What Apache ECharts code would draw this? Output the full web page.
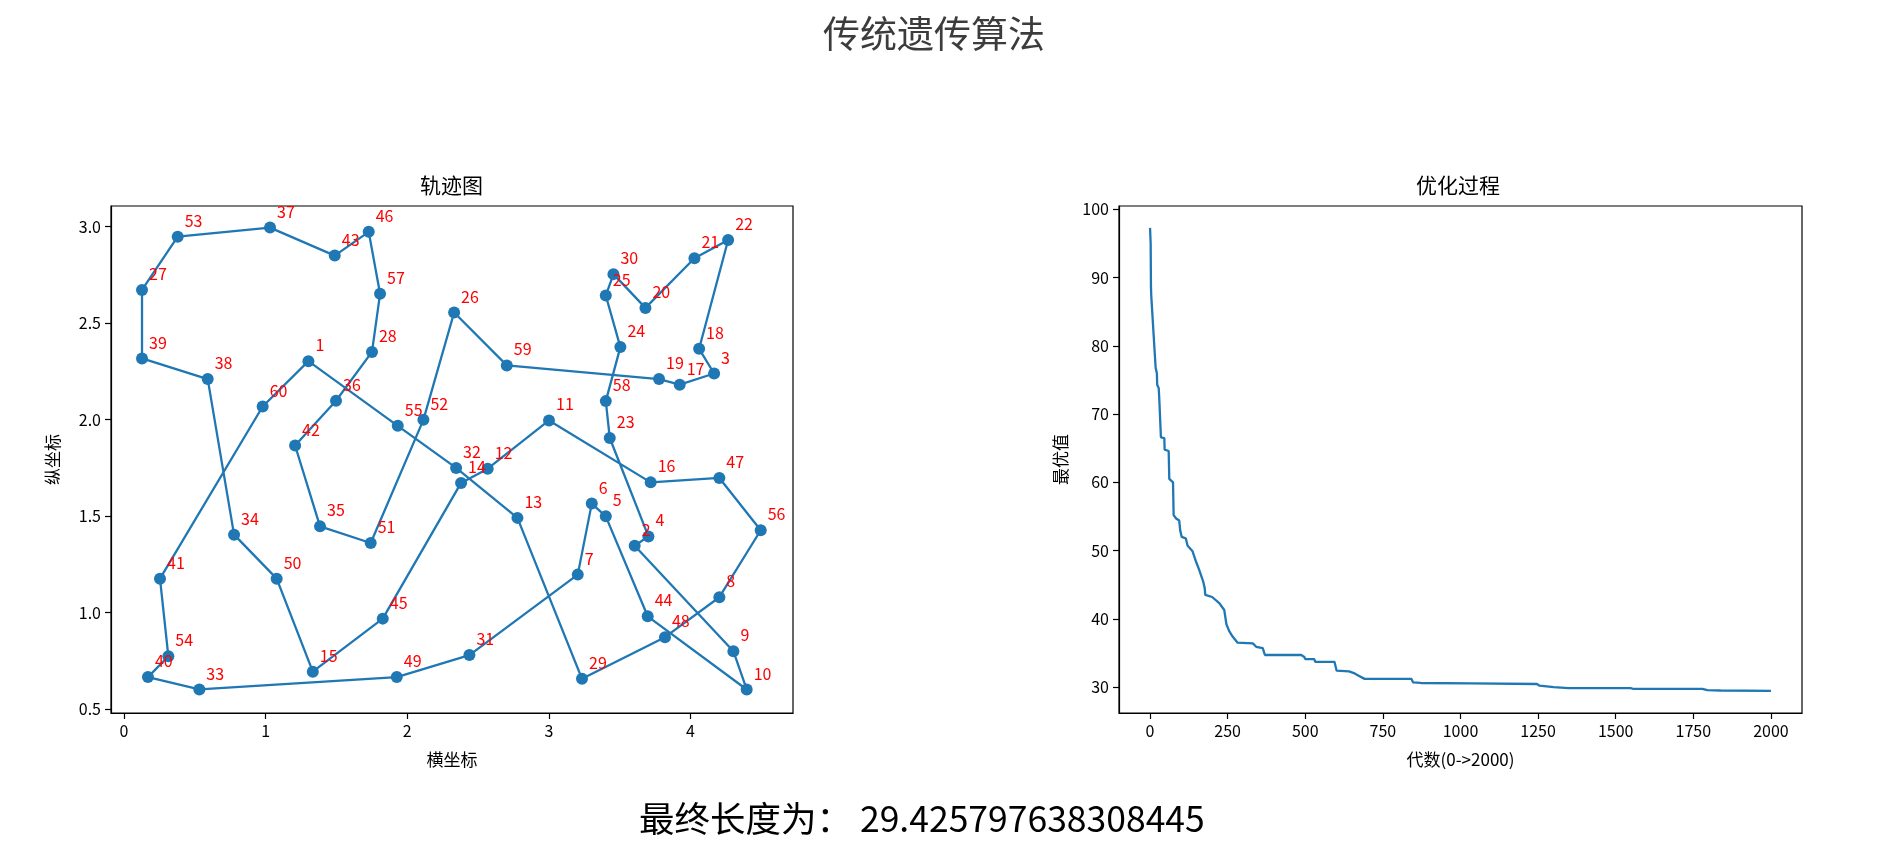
<!DOCTYPE html>
<html><head><meta charset="utf-8">
<script src="https://cdn.jsdelivr.net/npm/echarts@6/dist/echarts.min.js"></script>
<style>html,body{margin:0;padding:0;background:#fff;}#c{width:1889px;height:863px;}</style>
</head><body><div id="c"></div>
<script>
// ---- trajectory (route order) ----
const routeIds = [1,55,32,13,29,48,8,56,47,16,11,12,14,45,15,50,34,38,39,27,53,37,43,46,57,28,36,42,35,51,52,26,59,19,17,3,18,22,21,20,30,25,24,58,23,4,2,9,10,44,5,6,7,31,49,33,40,54,41,60];
const routeX = [1.302,1.933,2.345,2.778,3.234,3.820,4.204,4.496,4.204,3.719,3.001,2.568,2.380,1.827,1.333,1.078,0.777,0.591,0.127,0.127,0.379,1.031,1.488,1.728,1.808,1.751,1.497,1.208,1.384,1.742,2.114,2.331,2.703,3.778,3.924,4.167,4.061,4.266,4.028,3.682,3.456,3.402,3.505,3.402,3.430,3.703,3.606,4.303,4.397,3.698,3.402,3.303,3.204,2.439,1.926,0.532,0.169,0.313,0.254,0.979];
const routeY = [2.303,1.968,1.750,1.491,0.657,0.873,1.080,1.427,1.698,1.675,1.996,1.746,1.672,0.969,0.694,1.176,1.404,2.210,2.317,2.672,2.948,2.995,2.850,2.973,2.652,2.351,2.098,1.866,1.447,1.361,1.999,2.555,2.281,2.210,2.181,2.239,2.367,2.931,2.836,2.579,2.754,2.643,2.376,2.096,1.905,1.395,1.347,0.800,0.602,0.981,1.499,1.565,1.197,0.780,0.666,0.602,0.666,0.774,1.176,2.068];
const xTicks = [0,1,2,3,4];
const yTicks = [0.5,1.0,1.5,2.0,2.5,3.0];
// ---- optimisation process ----
const genX  = [0,2,3,4,10,11,17,18,22,23,28,30,34,35,46,47,60,62,74,76,82,84,94,97,102,115,121,137,148,158,171,176,178,200,223,239,244,246,255,266,282,331,342,363,370,487,497,500,529,532,594,601,641,659,675,691,842,847,872,1033,1039,1246,1255,1300,1348,1548,1555,1779,1795,1838,2000];
const bestY = [97.3,95.0,88.5,87.3,87.2,82.0,82.0,76.8,76.0,74.3,73.8,72.0,71.8,66.6,66.5,64.8,64.6,60.5,60.0,55.2,55.0,54.7,54.4,53.0,52.0,51.8,50.7,49.9,48.4,47.2,45.5,44.5,43.5,43.2,42.3,41.3,41.2,39.2,38.2,37.4,36.5,36.4,35.9,35.7,34.7,34.7,34.4,34.1,34.1,33.7,33.7,32.4,32.3,32.0,31.6,31.2,31.2,30.7,30.6,30.55,30.45,30.45,30.2,30.0,29.85,29.85,29.75,29.75,29.55,29.5,29.43];
const genTicks = [0,250,500,750,1000,1250,1500,1750,2000];
const bestTicks = [30,40,50,60,70,80,90,100];
const finalLength = '29.425797638308445';

const FONT = 'Noto Sans CJK SC';
const pathData = routeX.map((x,i)=>[x,routeY[i]]);
pathData.push(pathData[0]);
const cityData = routeX.map((x,i)=>({value:[x,routeY[i]], name:String(routeIds[i])}));
const curveData = genX.map((g,i)=>[g,bestY[i]]);

function axisBase(ticks, fmt){
  return {
    type:'value',
    axisLine:{show:true,onZero:false,lineStyle:{color:'#000',width:1.2}},
    axisTick:{show:true,customValues:ticks,length:6,lineStyle:{color:'#000',width:1.2}},
    axisLabel:{customValues:ticks,color:'#000',fontSize:16,fontFamily:FONT,margin:10,formatter:fmt},
    splitLine:{show:false},
    nameLocation:'middle',
    nameTextStyle:{color:'#000',fontSize:17,fontFamily:FONT}
  };
}

const chart = echarts.init(document.getElementById('c'));
chart.setOption({
  animation:false,
  backgroundColor:'#fff',
  title:[
    {text:'传统遗传算法',left:823,top:15,padding:0,textStyle:{fontSize:37,fontWeight:'normal',color:'#3c3c3c',fontFamily:FONT}},
    {text:'轨迹图',left:420,top:175,padding:0,textStyle:{fontSize:21,fontWeight:'normal',color:'#000',fontFamily:FONT}},
    {text:'优化过程',left:1416,top:175,padding:0,textStyle:{fontSize:21,fontWeight:'normal',color:'#000',fontFamily:FONT}},
    {text:'最终长度为： '+finalLength,left:639,top:801,padding:0,textStyle:{fontSize:35.5,fontWeight:'normal',color:'#000',fontFamily:FONT}}
  ],
  grid:[
    {left:111,top:206,width:682,height:507,show:true,borderColor:'#000',borderWidth:1.2,backgroundColor:'transparent'},
    {left:1119,top:206,width:683,height:507,show:true,borderColor:'#000',borderWidth:1.2,backgroundColor:'transparent'}
  ],
  xAxis:[
    Object.assign(axisBase(xTicks, v=>String(v)),{gridIndex:0,min:-0.092,max:4.724,name:'横坐标',nameGap:38}),
    Object.assign(axisBase(genTicks, v=>String(v)),{gridIndex:1,min:-100,max:2100,name:'代数(0->2000)',nameGap:38})
  ],
  yAxis:[
    Object.assign(axisBase(yTicks, v=>v.toFixed(1)),{gridIndex:0,min:0.48,max:3.107,name:'纵坐标',nameGap:50}),
    Object.assign(axisBase(bestTicks, v=>String(v)),{gridIndex:1,min:26.2,max:100.5,name:'最优值',nameGap:50})
  ],
  series:[
    {type:'line',xAxisIndex:0,yAxisIndex:0,data:pathData,symbol:'none',lineStyle:{color:'#1f77b4',width:2.3},z:2},
    {type:'scatter',xAxisIndex:0,yAxisIndex:0,data:cityData,symbol:'circle',symbolSize:12,itemStyle:{color:'#1f77b4',opacity:1},z:3,
     label:{show:true,formatter:'{b}',position:'inside',align:'left',verticalAlign:'middle',offset:[7,-16],color:'#ff0000',fontSize:16,fontFamily:FONT}},
    {type:'line',xAxisIndex:1,yAxisIndex:1,data:curveData,symbol:'none',lineStyle:{color:'#1f77b4',width:2.3},z:2}
  ]
});
</script></body></html>
